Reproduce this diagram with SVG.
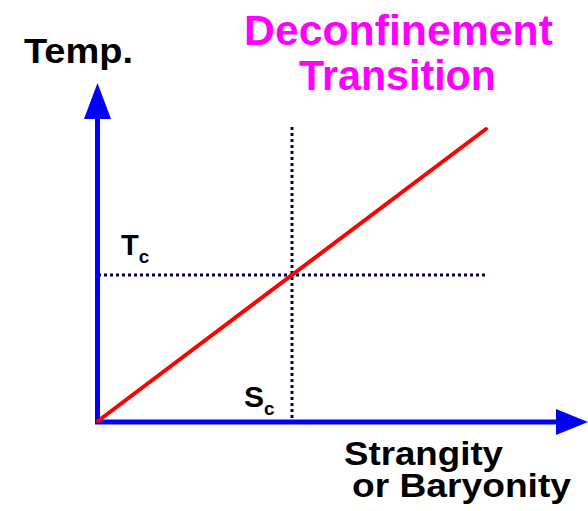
<svg xmlns="http://www.w3.org/2000/svg" width="588" height="511" viewBox="0 0 588 511">
<style>
.lbl{font-family:"Liberation Sans",Arial,sans-serif;font-weight:bold;fill:#000}
.title{font-family:"Liberation Sans",Arial,sans-serif;font-weight:bold;fill:#FF00FF}
.axis{stroke:#0000FF;stroke-width:5;fill:none}
.head{fill:#0000FF}
.dot{stroke:#000050;stroke-width:3;stroke-dasharray:3 3;fill:none}
</style>
<rect width="588" height="511" fill="#fff"/>
<g id="title">
<text class="title" x="244" y="45" font-size="43" textLength="309" lengthAdjust="spacingAndGlyphs">Deconfinement</text>
<text class="title" x="299" y="90" font-size="42" textLength="197" lengthAdjust="spacingAndGlyphs">Transition</text>
</g>
<g id="connectors">
<g id="guides">
<line class="dot" x1="292" y1="127" x2="292" y2="420"/>
<line class="dot" x1="98" y1="275" x2="488" y2="275"/>
</g>
<g id="y-axis">
<line class="axis" x1="97.5" y1="424" x2="97.5" y2="112"/>
<polygon class="head" points="97.5,83 84,119 111,119"/>
</g>
<g id="x-axis">
<line class="axis" x1="95" y1="422" x2="560" y2="422"/>
<polygon class="head" points="588,422 556,409 556,435"/>
</g>
<line id="transition-line" x1="98" y1="421" x2="486" y2="129" stroke="#FF0000" stroke-width="4" stroke-linecap="round"/>
</g>
<g id="labels">
<text class="lbl" x="24" y="63" font-size="35" textLength="109" lengthAdjust="spacingAndGlyphs">Temp.</text>
<text class="lbl" x="121" y="255" font-size="29">T<tspan font-size="19" dy="8">c</tspan></text>
<text class="lbl" x="244" y="407" font-size="30">S<tspan font-size="19" dy="8">c</tspan></text>
<text class="lbl" x="344" y="465" font-size="34" textLength="159" lengthAdjust="spacingAndGlyphs">Strangity</text>
<text class="lbl" x="352" y="497" font-size="34" textLength="219" lengthAdjust="spacingAndGlyphs">or Baryonity</text>
</g>
</svg>
